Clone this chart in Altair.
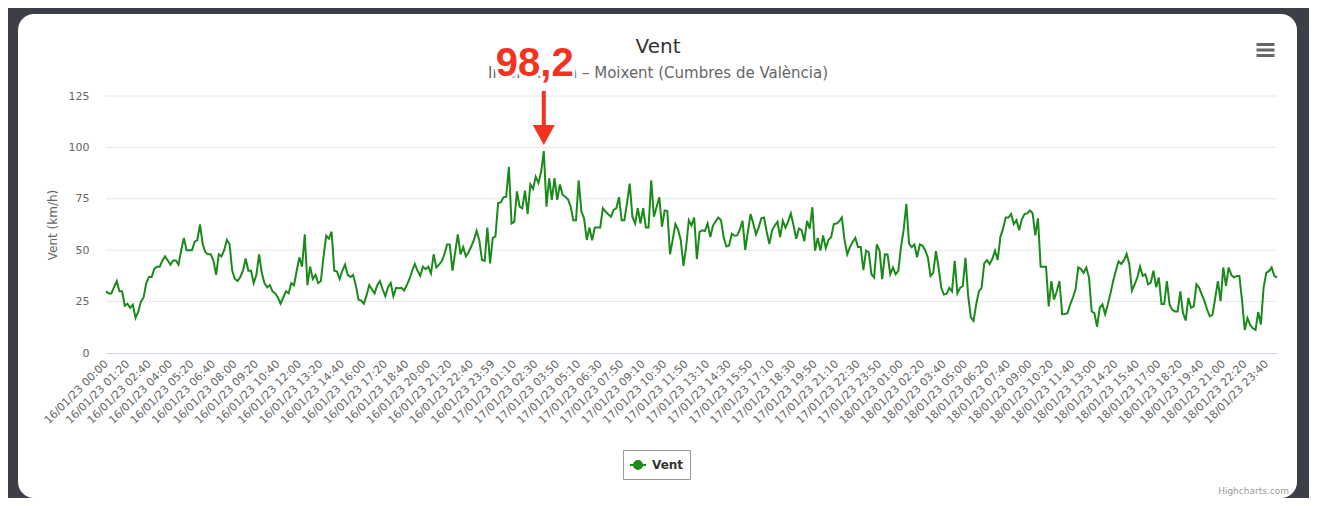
import altair as alt
import pandas as pd

# ---- data ----
wind = [
    30, 29, 29, 32, 35, 30, 30, 23, 24, 22,
    23.5, 17, 20, 25, 27, 34, 37, 37, 41, 42,
    42, 45, 47, 45, 43, 45, 45, 43, 50, 56,
    50, 50, 50, 54, 55, 62.5, 53, 49, 48, 48,
    45, 38, 48, 47, 50, 55, 53, 40, 36, 35,
    37, 40, 46, 40, 40, 34, 38, 48, 39, 34,
    32, 33, 30, 29, 27, 24, 27, 30, 29, 34,
    33, 40, 46.5, 42, 57.7, 33, 42, 36, 38, 34,
    35, 47, 57, 55.6, 59, 40, 39.6, 36, 40, 43,
    38, 37, 38, 33, 26, 25.5, 24, 28, 33, 31,
    29, 33, 35, 31, 27.6, 32, 34, 27.6, 31.7, 31.5,
    31.7, 30.4, 33, 36, 40, 43.3, 40, 37.5, 42, 40.8,
    42, 38.7, 48, 41.6, 43, 44.6, 48, 52.8, 52.8, 40,
    49, 57.7, 48, 51.5, 47, 49, 51.8, 55, 59.4, 54.8,
    45.2, 44.8, 61, 43.6, 56, 56.7, 72.9, 73.2, 75.7, 76,
    90.6, 63, 63.8, 78.6, 71.2, 70.4, 79, 67.6, 82, 79.8,
    85.7, 82.7, 88, 98.2, 71.2, 85, 74.5, 85, 74.5, 82,
    77, 76, 74.8, 71.2, 64.6, 64.6, 84, 68.8, 65.5, 55,
    61, 54.8, 61, 61, 61, 70.4, 68.8, 67.5, 66.3, 69.6,
    70.4, 75.8, 64.6, 64.6, 73, 82.4, 66.3, 63, 70.4, 63,
    70.4, 61, 61, 84, 66.3, 71, 75.8, 61.4, 69.3, 69,
    48, 55, 62.7, 60, 55, 42.4, 51.5, 64.6, 62, 65.9,
    45.7, 58.9, 59.7, 59.3, 63, 56.4, 62, 64, 65.9, 64.6,
    56, 51.8, 52.3, 58, 57, 57.2, 60, 64.3, 50.2, 59,
    67.6, 63, 57.7, 61, 65.5, 65.9, 59, 53, 59.7, 62,
    63.8, 56.4, 64.3, 61, 64, 67.9, 62, 55.6, 60.5, 59.7,
    54.4, 64.3, 60.5, 70.9, 49.8, 56, 49.8, 57.2, 51, 55,
    56.4, 62.7, 63, 64, 65.9, 54.8, 48, 51.5, 54, 56,
    51.5, 51.5, 40.3, 49.8, 49, 38.3, 36.7, 52.8, 49.8, 35.9,
    48, 47.9, 38.3, 41.6, 38.3, 40, 51.5, 60, 72.5, 53.2,
    51.5, 52.8, 46.5, 52.8, 52.3, 50, 46.5, 37.5, 39, 49.5,
    41.6, 31.7, 28.4, 28.8, 31.7, 30, 44.8, 29, 31.7, 32.6,
    46.3, 28, 17.5, 15.6, 23.6, 30, 31.7, 43.6, 45.2, 43.3,
    45.7, 49.8, 45.2, 56.4, 60.5, 65.9, 65.9, 67.6, 62.7, 64.6,
    59.7, 65, 67.6, 67.9, 69.3, 68, 57.2, 65.5, 42, 42,
    42, 22.7, 35, 26, 30, 35, 18.9, 19, 19.4, 23.6,
    27, 31, 41.6, 40.8, 39, 41.6, 36.7, 20.2, 19.4, 12.8,
    22, 23.6, 18.9, 23.6, 29, 35, 40, 44.6, 43.3, 45,
    48.2, 43.3, 30.4, 33.4, 36.7, 42, 37.5, 38.3, 33.4, 34.2,
    40, 32, 36.7, 23.8, 23.8, 35, 23.6, 21, 20.2, 20.2,
    30, 19.4, 15.8, 26.8, 22, 22.7, 33.4, 31.7, 28.4, 25.2,
    21, 17.8, 18.6, 26.8, 35, 25.2, 41.6, 32.6, 41.6, 38,
    36.7, 37.5, 37.5, 25.2, 11.2, 17, 13.7, 12, 11.2, 19.9,
    13.9, 31.7, 39, 39.8, 41.6, 37.5, 36.7,
]

tick_labels = [
    "16/01/23 00:00", "16/01/23 01:20", "16/01/23 02:40", "16/01/23 04:00",
    "16/01/23 05:20", "16/01/23 06:40", "16/01/23 08:00", "16/01/23 09:20",
    "16/01/23 10:40", "16/01/23 12:00", "16/01/23 13:20", "16/01/23 14:40",
    "16/01/23 16:00", "16/01/23 17:20", "16/01/23 18:40", "16/01/23 20:00",
    "16/01/23 21:20", "16/01/23 22:40", "16/01/23 23:59",
    "17/01/23 01:10", "17/01/23 02:30", "17/01/23 03:50", "17/01/23 05:10",
    "17/01/23 06:30", "17/01/23 07:50", "17/01/23 09:10", "17/01/23 10:30",
    "17/01/23 11:50", "17/01/23 13:10", "17/01/23 14:30", "17/01/23 15:50",
    "17/01/23 17:10", "17/01/23 18:30", "17/01/23 19:50", "17/01/23 21:10",
    "17/01/23 22:30", "17/01/23 23:50",
    "18/01/23 01:00", "18/01/23 02:20", "18/01/23 03:40", "18/01/23 05:00",
    "18/01/23 06:20", "18/01/23 07:40", "18/01/23 09:00", "18/01/23 10:20",
    "18/01/23 11:40", "18/01/23 13:00", "18/01/23 14:20", "18/01/23 15:40",
    "18/01/23 17:00", "18/01/23 18:20", "18/01/23 19:40", "18/01/23 21:00",
    "18/01/23 22:20", "18/01/23 23:40",
]
tick_step = 8
y_ticks = [0, 25, 50, 75, 100, 125]
series_name = "Vent"
title_text = "Vent"
subtitle_text = "Información – Moixent (Cumbres de València)"
y_title = "Vent (km/h)"
credits = "Highcharts.com"

# ---- styles ----
GREEN = "#1a8a1a"
RED = "#f5321f"
FRAME = "#3c3f47"
FONT = "DejaVu Sans"
W, H = 1171, 257

peak_value = max(wind)
peak_i = wind.index(peak_value)
peak_label = f"{peak_value}".replace(".", ",")

df = pd.DataFrame({"i": list(range(len(wind))), "v": wind, "serie": series_name})
peak_df = pd.DataFrame({"i": [peak_i], "v": [peak_value], "lab": [peak_label]})
grid_df = pd.DataFrame({"v": y_ticks[1:]})
one = pd.DataFrame({"k": [0]})

label_expr = "[" + ",".join(f"'{s}'" for s in tick_labels) + f"][round(datum.value/{tick_step})]"

x_scale = alt.Scale(domain=[0, len(wind) - 1], nice=False, zero=False)
y_scale = alt.Scale(domain=[y_ticks[0], y_ticks[-1]], nice=False)

x_axis = alt.Axis(
    values=[k * tick_step for k in range(len(tick_labels))],
    labelExpr=label_expr, labelAngle=-45, labelAlign="right", labelBaseline="middle",
    labelFontSize=11, labelColor="#666666", labelFont=FONT, labelPadding=9,
    labelOverlap=False, labelFlush=False, labelBound=False,
    domainColor="#ccd6eb", domainWidth=1, ticks=False, grid=False, title=None, zindex=1,
)
y_axis = alt.Axis(
    values=y_ticks, grid=False, domain=False, ticks=False,
    labelColor="#666666", labelFontSize=11, labelFont=FONT, labelPadding=17,
    title=y_title, titleColor="#666666", titleFontSize=12, titleFont=FONT,
    titleFontWeight="normal", titleX=-54, titleY=H / 2, titleAngle=-90,
    titleAlign="center", titleBaseline="middle", zindex=1,
)

X = alt.X("i:Q", scale=x_scale, axis=x_axis)
Y = alt.Y("v:Q", scale=y_scale, axis=y_axis)

frame = alt.Chart(one).mark_rect(fill="white", cornerRadius=16).encode(
    x=alt.value(-88), x2=alt.value(1191), y=alt.value(-82), y2=alt.value(402)
)

grid = alt.Chart(grid_df).mark_rule(color="#e6e6e6", strokeWidth=1).encode(y=Y)

line = alt.Chart(df).mark_line(strokeWidth=2).encode(
    x=X, y=Y,
    color=alt.Color(
        "serie:N", scale=alt.Scale(range=[GREEN]),
        legend=alt.Legend(
            title=None, orient="none", legendX=517, legendY=354,
            direction="horizontal", strokeColor="#999999", fillColor="white",
            padding=6, symbolType="M-1,0L1,0M-0.5,0A0.5,0.5,0,1,0,0.5,0A0.5,0.5,0,1,0,-0.5,0Z",
            symbolSize=256, symbolStrokeWidth=2, symbolFillColor=GREEN,
            labelFontSize=12, labelFontWeight="bold", labelColor="#333333", labelFont=FONT,
            labelOffset=5,
        ),
    ),
)

arrow = alt.Chart(peak_df).mark_point(
    shape="M0,-0.6L-1.1,-2.6L-0.2,-2.6L-0.2,-6L0.2,-6L0.2,-2.6L1.1,-2.6Z",
    size=400, filled=True, color=RED, opacity=1, strokeWidth=0,
).encode(x=X, y=Y)

halo = alt.Chart(peak_df).mark_text(
    font="Liberation Sans", fontSize=40, fontWeight="bold", fill="white",
    stroke="white", strokeWidth=6, strokeJoin="round", dx=-9, dy=-75,
    baseline="alphabetic", align="center",
).encode(x=X, y=Y, text="lab:N")

peak_text = alt.Chart(peak_df).mark_text(
    font="Liberation Sans", fontSize=40, fontWeight="bold", color=RED,
    dx=-9, dy=-75, baseline="alphabetic", align="center",
).encode(x=X, y=Y, text="lab:N")

title = alt.Chart(pd.DataFrame({"t": [title_text]})).mark_text(
    font=FONT, fontSize=20, color="#333333", align="center", baseline="alphabetic"
).encode(x=alt.value(552), y=alt.value(-43), text="t:N")

subtitle = alt.Chart(pd.DataFrame({"t": [subtitle_text]})).mark_text(
    font=FONT, fontSize=15, color="#666666", align="center", baseline="alphabetic"
).encode(x=alt.value(552), y=alt.value(-18), text="t:N")

menu = alt.Chart(one).mark_point(
    shape="M-1,-0.6L1,-0.6M-1,0L1,0M-1,0.6L1,0.6", size=324, filled=False,
    color="#666666", strokeWidth=3, opacity=1,
).encode(x=alt.value(1159.5), y=alt.value(-46))

credit = alt.Chart(pd.DataFrame({"t": [credits]})).mark_text(
    font=FONT, fontSize=9, color="#999999", align="right", baseline="alphabetic"
).encode(x=alt.value(1183), y=alt.value(398), text="t:N")

chart = alt.layer(
    frame, grid, line, subtitle, halo, peak_text, arrow, title, menu, credit
).properties(
    width=W, height=H,
    autosize=alt.AutoSizeParams(type="none"),
    padding={"left": 98, "top": 88, "right": 32, "bottom": 145},
    background=FRAME,
).configure_view(strokeWidth=0)

chart.save("out.html", embed_options={"renderer": "svg", "actions": False})
